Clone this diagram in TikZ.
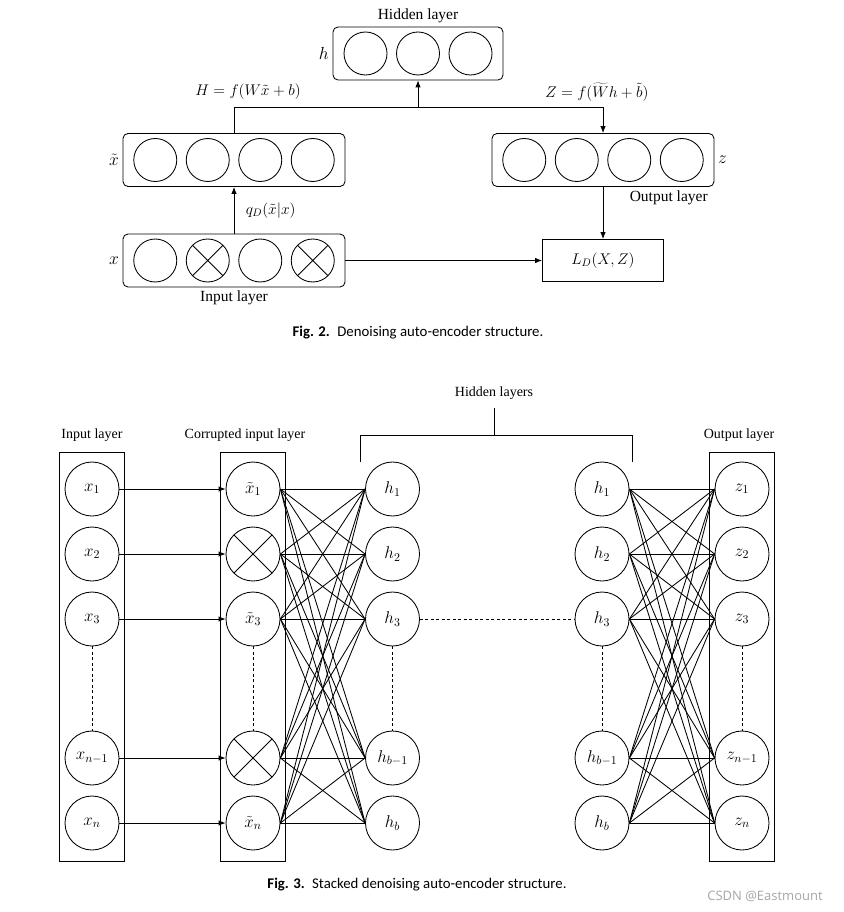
\documentclass[tikz,border=0pt]{standalone}
\usepackage{fix-cm}
\usepackage{fontspec}
\setmainfont{Liberation Serif}
\newfontfamily\capfont{Carlito}
\newfontfamily\markfont{Open Sans}
\usetikzlibrary{arrows.meta,positioning}

\begin{document}
\begin{tikzpicture}[x=1pt,y=-1pt,>={Latex[length=7pt,width=5.5pt]},line width=0.85pt,
  every node/.style={font=\fontsize{15.5}{18}\selectfont},
  neuron/.style={circle,draw,minimum size=43pt,inner sep=0pt},
  bigneuron/.style={circle,draw,minimum size=54pt,inner sep=0pt,font=\fontsize{17}{20}\selectfont},
  sidelab/.style={font=\fontsize{17.5}{20}\selectfont},
  collab/.style={font=\fontsize{14}{16}\selectfont},
  crossed/.style={path picture={\draw (path picture bounding box.south west) -- (path picture bounding box.north east)
      (path picture bounding box.north west) -- (path picture bounding box.south east);}},
  layerbox/.style={draw,rounded corners=5pt,minimum height=53pt,inner sep=0pt},
  colbox/.style={draw,minimum width=65pt,minimum height=409pt,inner sep=0pt},
  dotline/.style={dash pattern=on 3pt off 2.5pt},
  figcap/.style={font=\capfont\fontsize{14.8}{17}\selectfont}]
\useasboundingbox (0,0) rectangle (843,912);

% Fig. 2
\node[layerbox,minimum width=170pt] (hid) at (418,53.5) {};
\foreach \k in {0,1,2}
  \node[neuron] (hid\k) at ({365.5+52.5*\k},53.5) {};
\node[above=0pt of hid] (hidlab) {Hidden layer};
\node[sidelab,left=0pt of hid] (hsym) {$h$};

\node[layerbox,minimum width=222pt] (xt) at (234,160) {};
\foreach \k in {0,...,3}
  \node[neuron] (xt\k) at ({155.25+52.5*\k},160) {};
\node[sidelab,left=0pt of xt] (xtsym) {$\tilde{x}$};

\node[layerbox,minimum width=222pt] (zo) at (603,160) {};
\foreach \k in {0,...,3}
  \node[neuron] (zo\k) at ({524.25+52.5*\k},160) {};
\node[sidelab,right=0pt of zo] (zsym) {$z$};
\node[anchor=north east] (zolab) at ([xshift=-3pt]zo.south east) {Output layer};

\node[layerbox,minimum width=222pt] (xin) at (234,260.5) {};
\node[neuron] (xin0) at (155.25,260.5) {};
\node[neuron,crossed] (xin1) at (207.75,260.5) {};
\node[neuron] (xin2) at (260.25,260.5) {};
\node[neuron,crossed] (xin3) at (312.75,260.5) {};
\node[sidelab,left=0pt of xin] (xsym) {$x$};
\node[below=0pt of xin] (xinlab) {Input layer};

\node[draw,minimum width=121pt,minimum height=42pt] (loss) at (603,260.5) {$L_D(X,Z)$};

\coordinate (split) at (418,107);
\draw[->] (xin.north) -- (xt.south) node[midway,right=8pt] (qlab) {$q_D(\tilde{x}|x)$};
\draw[->] (xt.north) |- (split) -- (hid.south);
\draw[->] (split) -| (zo.north);
\node (enc) at (248,92) {$H=f(W\tilde{x}+b)$};
\node (dec) at (597,92) {$Z=f(\widetilde{W}h+\tilde{b})$};
\draw[->] (xin.east) -- (loss.west);
\draw[->] (zo.south) -- (loss.north);

\node[figcap] (cap2) at (418,333) {\textbf{Fig. 2.}\enspace Denoising auto-encoder structure.};

% Fig. 3
\node[colbox] (inbox) at (91.5,656.5) {};
\node[colbox] (crbox) at (253,656.5) {};
\node[colbox] (outbox) at (741.5,656.5) {};
\node[collab] (inlab) at (92,435) {Input layer};
\node[collab] (crlab) at (245,435) {Corrupted input layer};
\node[collab] (outlab) at (739,435) {Output layer};

\foreach \r/\py/\t in {1/489/x_1,2/554/x_2,3/619/x_3,4/758/x_{n-1},5/823/x_n}
  \node[bigneuron] (in\r) at (92,\py) {$\t$};
\foreach \r/\py/\t in {1/489/\tilde{x}_1,3/619/\tilde{x}_3,5/823/\tilde{x}_n}
  \node[bigneuron] (cr\r) at (253,\py) {$\t$};
\foreach \r/\py in {2/554,4/758}
  \node[bigneuron,crossed] (cr\r) at (253,\py) {};
\foreach \r/\py/\t in {1/489/h_1,2/554/h_2,3/619/h_3,4/758/h_{b-1},5/823/h_b}{
  \node[bigneuron] (ha\r) at (392.5,\py) {$\t$};
  \node[bigneuron] (hb\r) at (602,\py) {$\t$};
}
\foreach \r/\py/\t in {1/489/z_1,2/554/z_2,3/619/z_3,4/758/z_{n-1},5/823/z_n}
  \node[bigneuron] (out\r) at (742,\py) {$\t$};

\foreach \i in {1,...,5}{
  \draw[->] (in\i) -- (cr\i);
  \foreach \j in {1,...,5}{
    \draw (cr\i.east) -- (ha\j.west);
    \draw (hb\i.east) -- (out\j.west);
  }
}
\foreach \c in {in,cr,ha,hb,out}
  \draw[dotline] (\c3) -- (\c4);
\draw[dotline] (ha3) -- (hb3);

% bracket over the hidden layers
\node[collab] (hidslab) at (494,393) {Hidden layers};
\coordinate (brl) at (360,462);
\coordinate (brr) at (632,462);
\coordinate (brm) at (494,435);
\draw (brl) -- ++(0,-27) -| (brr);
\draw (brm) -- (494,408);

\node[figcap] (cap3) at (417,885) {\textbf{Fig. 3.}\enspace Stacked denoising auto-encoder structure.};
\node[font=\markfont\fontsize{13}{15}\selectfont,text=black!35] (mark) at (765,896) {CSDN @Eastmount};
\end{tikzpicture}
\end{document}
